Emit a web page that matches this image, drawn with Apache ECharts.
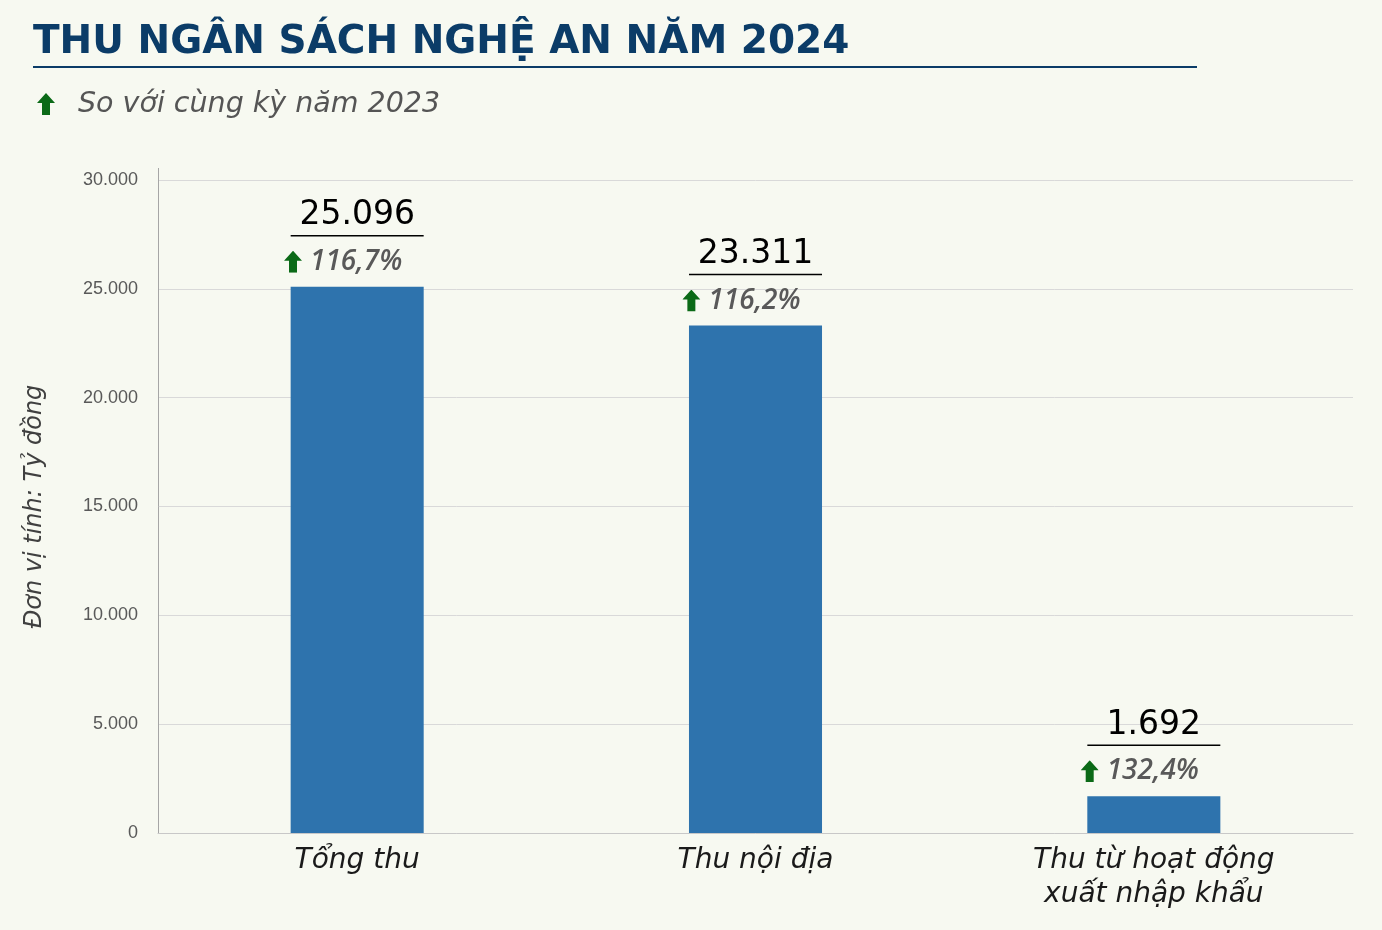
<!DOCTYPE html>
<html>
<head>
<meta charset="utf-8">
<script src="https://cdn.jsdelivr.net/npm/echarts@6/dist/echarts.min.js"></script>
<style>
html,body{margin:0;padding:0;background:#f7f9f1;}
#c{width:1382px;height:930px;}
</style>
</head>
<body>
<div id="c"></div>
<script>
const categories = ['Tổng thu', 'Thu nội địa', 'Thu từ hoạt động\nxuất nhập khẩu'];
const values = [25096, 23311, 1692];
const growth = ['116,7', '116,2', '132,4'];
const yTicks = [0, 5000, 10000, 15000, 20000, 25000, 30000];

const FONT = '"Open Sans", "Noto Sans", sans-serif';
const WIDE = '"DejaVu Sans", "Open Sans", sans-serif';
const GREEN = '#0b6a17';
const arrowSvg = 'data:image/svg+xml;charset=utf-8,' + encodeURIComponent(
  '<svg xmlns="http://www.w3.org/2000/svg" width="18" height="22" viewBox="0 0 18 22"><polygon points="9,0 18,10 13,10 13,22 5,22 5,10 0,10" fill="' + GREEN + '"/></svg>');

function fmt(n){ return String(n).replace(/\B(?=(\d{3})+(?!\d))/g, '.'); }

const chart = echarts.init(document.getElementById('c'));
chart.setOption({
  backgroundColor: '#f7f9f1',
  animation: false,
  title: {
    text: 'THU NGÂN SÁCH NGHỆ AN NĂM 2024',
    left: 28, top: 18,
    textStyle: { fontFamily: WIDE, fontWeight: 'bold', fontSize: 39, color: '#0b3c68' }
  },
  graphic: [
    { type: 'line', shape: { x1: 33, y1: 67, x2: 1197, y2: 67 }, style: { stroke: '#0b3c68', lineWidth: 2 } },
    { type: 'image', style: { image: arrowSvg, x: 37, y: 93, width: 18, height: 22 } },
    { type: 'text', x: 78, y: 105, style: { text: 'So với cùng kỳ năm 2023', fontFamily: WIDE, fontStyle: 'italic', fontSize: 28.5, fill: '#555555', verticalAlign: 'middle' } },
    { type: 'line', shape: { x1: 158.5, y1: 168, x2: 158.5, y2: 180 }, style: { stroke: '#a6a6a6', lineWidth: 1 } }
  ],
  grid: { left: 158, right: 29, top: 180, bottom: 97, containLabel: false },
  xAxis: {
    type: 'category',
    data: categories,
    axisLine: { show: true, lineStyle: { color: '#c8c8c8', width: 1 } },
    axisTick: { show: false },
    axisLabel: { fontFamily: WIDE, fontStyle: 'italic', fontSize: 28, color: '#1a1a1a', lineHeight: 34, margin: 11 }
  },
  yAxis: {
    type: 'value',
    min: yTicks[0], max: yTicks[yTicks.length - 1], interval: 5000,
    name: 'Đơn vị tính: Tỷ đồng',
    nameLocation: 'middle', nameRotate: 90, nameGap: 111,
    nameTextStyle: { fontFamily: WIDE, fontStyle: 'italic', fontSize: 24, color: '#404040' },
    axisLine: { show: true, lineStyle: { color: '#a6a6a6', width: 1 } },
    axisTick: { show: false },
    axisLabel: { fontFamily: '"Liberation Sans", sans-serif', fontSize: 18, color: '#595959', margin: 20, formatter: v => fmt(v) },
    splitLine: { lineStyle: { color: '#d9d9d9', width: 1 } }
  },
  series: [{
    type: 'bar',
    data: values,
    barWidth: '33.4%',
    itemStyle: { color: '#2e73ad' },
    label: {
      show: true, position: 'top', distance: 6,
      formatter: p => '{v|' + fmt(values[p.dataIndex]) + '}\n{r| }\n{s| }\n{a| }{p|' + growth[p.dataIndex] + '%}',
      rich: {
        v: { fontFamily: WIDE, fontSize: 33, color: '#000', lineHeight: 38, align: 'center' },
        r: { width: 133, height: 1.5, lineHeight: 2, fontSize: 1, backgroundColor: '#000', align: 'center' },
        s: { height: 6, lineHeight: 6, fontSize: 1 },
        a: { width: 18, height: 22, backgroundColor: { image: arrowSvg }, fontSize: 1 },
        p: { fontFamily: FONT, fontSize: 28, fontStyle: 'italic', fontWeight: 600, color: '#595959', lineHeight: 38, padding: [0, 28, 0, 8] }
      }
    }
  }]
});
</script>
</body>
</html>
